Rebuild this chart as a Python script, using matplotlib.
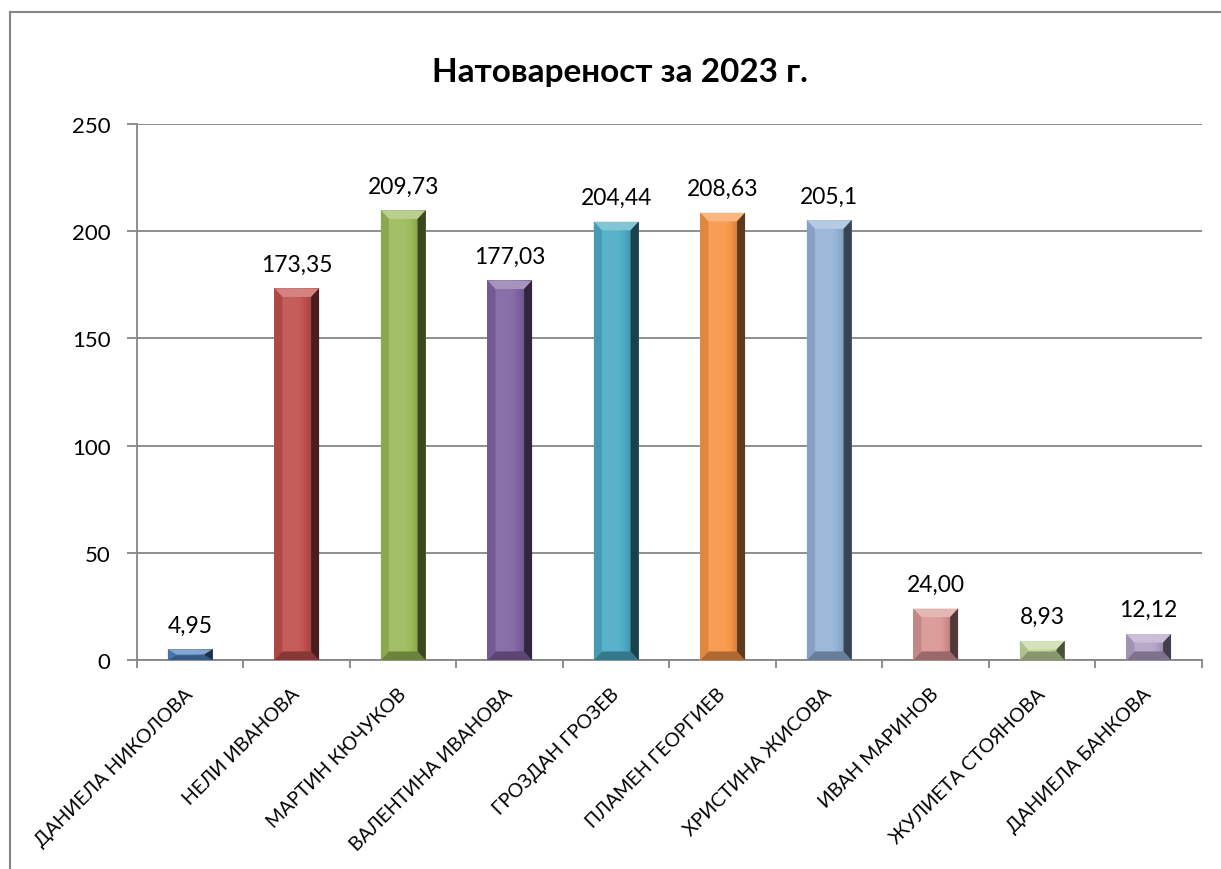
import matplotlib
matplotlib.use('Agg')
import matplotlib.pyplot as plt
import matplotlib.colors as mcolors
from matplotlib.patches import Polygon
from matplotlib.lines import Line2D
import numpy as np

plt.rcParams['font.family'] = ['Lato', 'DejaVu Sans']

names = ['ДАНИЕЛА НИКОЛОВА', 'НЕЛИ ИВАНОВА', 'МАРТИН КЮЧУКОВ', 'ВАЛЕНТИНА ИВАНОВА',
         'ГРОЗДАН ГРОЗЕВ', 'ПЛАМЕН ГЕОРГИЕВ', 'ХРИСТИНА ЖИСОВА', 'ИВАН МАРИНОВ',
         'ЖУЛИЕТА СТОЯНОВА', 'ДАНИЕЛА БАНКОВА']
values = [4.95, 173.35, 209.73, 177.03, 204.44, 208.63, 205.1, 24.00, 8.93, 12.12]
value_labels = ['4,95', '173,35', '209,73', '177,03', '204,44', '208,63', '205,1',
                '24,00', '8,93', '12,12']
colors = ['#4F81BD', '#C0504D', '#9BBB59', '#8064A2', '#4BACC6', '#F79646',
          '#95B3D7', '#D99694', '#C3D69B', '#B3A2C7']
title = 'Натовареност за 2023 г.'

grey = '#868686'


def shade(c, f):
    # f>0 lighter, f<0 darker
    r = np.array(mcolors.to_rgb(c))
    if f >= 0:
        r = r + (1 - r) * f
    else:
        r = r * (1 + f)
    return tuple(r)


fig = plt.figure(figsize=(12.21, 8.70), dpi=100)
ax = fig.add_axes([0.1122, 0.2402, 0.8722, 0.6161])

width = 0.42
bx = 0.075       # bevel, category units
by_max = 4.0     # bevel, data units

x = np.arange(len(values))
bars = ax.bar(x, values, width=width, color=colors, zorder=3, linewidth=0)

for b, c in zip(bars, colors):
    x0 = b.get_x()
    x1 = x0 + b.get_width()
    h = b.get_height()
    by = min(by_max, h / 2.2)
    # face gradient (light left-centre, dark right)
    grad = np.linspace(0, 1, 64)
    prof = 0.08 - 0.4 * np.clip((grad - 0.5) / 0.5, 0, 1) ** 1.5 - 0.12 * np.clip(0.2 - grad, 0, 1) / 0.2
    rgb = np.array([shade(c, p) for p in prof])[None, :, :]
    im = ax.imshow(rgb, extent=[x0, x1, 0, h], aspect='auto', zorder=3.1,
                   interpolation='bilinear')
    im.set_clip_path(b)
    # top bevel
    ax.add_patch(Polygon([(x0, h), (x1, h), (x1 - bx, h - by), (x0 + bx, h - by)],
                         closed=True, color=shade(c, 0.3), lw=0, zorder=3.2))
    # bottom bevel
    ax.add_patch(Polygon([(x0, 0), (x1, 0), (x1 - bx, by), (x0 + bx, by)],
                         closed=True, color=shade(c, -0.3), lw=0, zorder=3.2))
    # left bevel
    ax.add_patch(Polygon([(x0, 0), (x0, h), (x0 + bx, h - by), (x0 + bx, by)],
                         closed=True, color=shade(c, -0.1), lw=0, zorder=3.2))
    # right bevel
    ax.add_patch(Polygon([(x1, 0), (x1, h), (x1 - bx, h - by), (x1 - bx, by)],
                         closed=True, color=shade(c, -0.62), lw=0, zorder=3.2))

for b, lab in zip(bars, value_labels):
    ax.annotate(lab, (b.get_x() + b.get_width() / 2, b.get_height()),
                xytext=(0, 10), textcoords='offset points', ha='center', va='bottom',
                fontsize=16.5, color='black')

ax.set_xlim(-0.5, len(values) - 0.5)
ax.set_ylim(0, 250)
ax.set_yticks(np.arange(0, 251, 50))
ax.yaxis.grid(True, color=grey, linewidth=1.3, zorder=0)
ax.set_axisbelow(True)

ax.set_xticks(x)
ax.set_xticklabels(names, rotation=45, ha='right', va='center', rotation_mode='anchor',
                   fontsize=14)
ax.set_xticks(np.arange(-0.5, len(values), 1), minor=True)
ax.tick_params(axis='x', which='major', length=0, pad=22)
ax.tick_params(axis='x', which='minor', length=6, width=1.3, color=grey, direction='out')
ax.tick_params(axis='y', length=7, width=1.3, color=grey, labelsize=16, pad=12)

for s in ['top', 'right']:
    ax.spines[s].set_visible(False)
for s in ['left', 'bottom']:
    ax.spines[s].set_color(grey)
    ax.spines[s].set_linewidth(1.3)

fig.text(0.508, 0.917, title, ha='center', va='center', fontsize=24, fontweight='bold')

# outer chart border (left and top visible)
fig.add_artist(Line2D([10 / 1221, 10 / 1221], [0, 1 - 13 / 870], color=grey, lw=1.5))
fig.add_artist(Line2D([10 / 1221, 1], [1 - 13 / 870, 1 - 13 / 870], color=grey, lw=1.5))

fig.savefig('out.png', dpi=100)
